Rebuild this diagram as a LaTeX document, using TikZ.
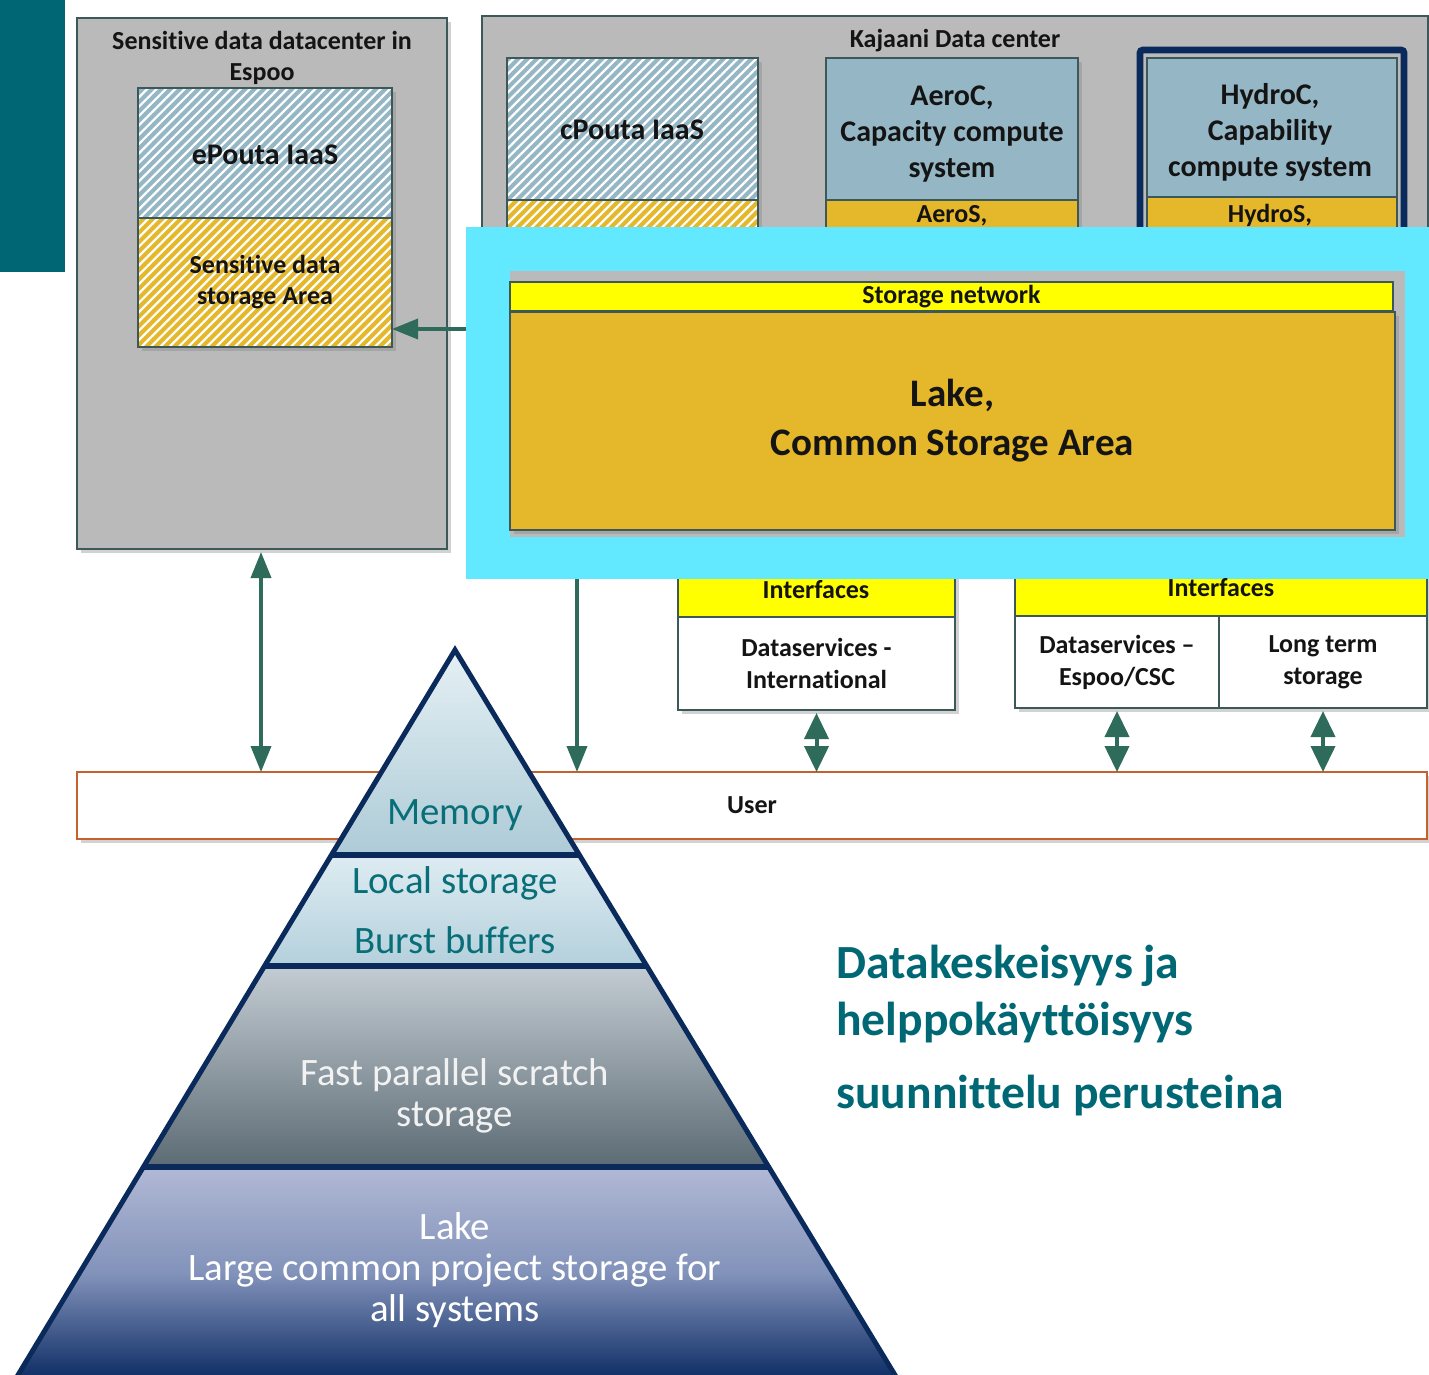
\documentclass[tikz,border=0pt]{standalone}
\usepackage{fontspec}
\setmainfont{Carlito}[Ligatures={NoCommon,NoContextual}]
\usetikzlibrary{shadows,patterns.meta,arrows.meta,calc}
\definecolor{tealbar}{RGB}{0,102,115}
\definecolor{boxgray}{RGB}{186,186,186}
\definecolor{boxedge}{RGB}{60,88,88}
\definecolor{hblue}{RGB}{149,182,197}
\definecolor{hgold}{RGB}{229,183,42}
\definecolor{byellow}{RGB}{255,255,0}
\definecolor{hcyan}{RGB}{99,233,255}
\definecolor{arrgreen}{RGB}{46,107,90}
\definecolor{userorange}{RGB}{196,98,45}
\definecolor{navy}{RGB}{10,42,92}
\definecolor{pyrtext}{RGB}{8,110,120}
\definecolor{righttext}{RGB}{0,104,116}
\definecolor{txtdark}{RGB}{20,20,20}
\newcommand\myfsA{\fontsize{13}{15.5}\selectfont\bfseries}
\newcommand\myfsB{\fontsize{15}{18}\selectfont\bfseries}
\newcommand\myfsD{\fontsize{19.5}{23.5}\selectfont\bfseries}
\newcommand\myfsE{\fontsize{13}{16}\selectfont\bfseries}
\newcommand\myfsP{\fontsize{19.4}{20.5}\selectfont}
\newcommand\myfsR{\fontsize{23.8}{28}\selectfont\bfseries}
\begin{document}
\begin{tikzpicture}[x=0.5pt,y=-0.5pt,
  box/.style={draw=boxedge, line width=0.6pt, inner sep=0pt, outer sep=0pt, anchor=north west, align=center, text=txtdark},
  shad/.style={drop shadow={shadow xshift=2pt, shadow yshift=-2pt, opacity=0.35}},
  hatch/.style={pattern={Lines[angle=45,distance=3.3pt,line width=1.1pt]}, pattern color=white},
  bluehatch/.style={box, shad, preaction={fill=hblue}, hatch},
  goldhatch/.style={box, shad, preaction={fill=hgold}, hatch},
  lbl/.style={font=\myfsA, align=center, inner sep=0pt, text=txtdark},
  midlbl/.style={font=\myfsB, align=center, inner sep=0pt, text=txtdark},
  thinarr/.style={draw=arrgreen, fill=arrgreen, line width=1.8pt},
  tipone/.style={-{Triangle[length=13pt,width=10pt]}},
  tipboth/.style={{Triangle[length=13pt,width=10pt]}-{Triangle[length=13pt,width=10pt]}},
  fatarr/.style={draw=arrgreen, fill=arrgreen, line width=2pt, {Triangle[length=13pt,width=12pt]}-{Triangle[length=13pt,width=12pt]}},
  pyr/.style={font=\myfsP, align=center, inner sep=0pt},
  righttxt/.style={font=\myfsR, text=righttext, anchor=west, inner sep=0pt}
]
\useasboundingbox (0,0) rectangle (1429,1375);
\fill[white] (0,0) rectangle (1429,1375);
\fill[tealbar] (0,0) rectangle (65,272);

% Espoo data center
\node[box, shad, fill=boxgray, minimum width=185pt, minimum height=265.5pt] (espoo) at (77,18) {};
\node[lbl] (espootitle) at (262,57.5) {Sensitive data datacenter in\\Espoo};
\node[bluehatch, minimum width=127pt, minimum height=65pt] (epouta) at (138,88) {};
\node[midlbl] (epoutatxt) at (265,155) {ePouta IaaS};
\node[goldhatch, minimum width=127pt, minimum height=64.5pt, font=\myfsA] (sens) at (138,218) {Sensitive data\\storage Area};

% Kajaani data center
\node[box, shad, fill=boxgray, minimum width=473pt, minimum height=140pt] (kaj) at (482,16) {};
\node[lbl] (kajtitle) at (955,41) {Kajaani Data center};
\node[bluehatch, minimum width=125.5pt, minimum height=71pt] (cpouta) at (507,58) {};
\node[midlbl] (cpoutatxt) at (632,130) {cPouta IaaS};
\node[goldhatch, minimum width=125.5pt, minimum height=40pt] (workdisk) at (507,200) {};
\node[box, shad, fill=hblue, minimum width=126pt, minimum height=71pt] (aeroc) at (826,58) {};
\node[midlbl] (aerotxt) at (952,134) {AeroC,\\Capacity compute\\system};
\node[box, shad, fill=hgold, minimum width=126pt, minimum height=40pt] (aeros) at (826,200) {};
\node[lbl] (aerostxt) at (952,216) {AeroS,};
\node[box, draw=navy, line width=3.4pt, rounded corners=1.5pt, minimum width=132pt, minimum height=100pt] (hydroframe) at (1140,50) {};
\node[box, fill=hblue, minimum width=125pt, minimum height=69.5pt] (hydroc) at (1147,58) {};
\node[midlbl] (hydrotxt) at (1270,132) {HydroC,\\Capability\\compute system};
\node[box, fill=hgold, minimum width=125pt, minimum height=40pt] (hydros) at (1147,197) {};
\node[lbl] (hydrostxt) at (1270,215) {HydroS,};

% Interfaces (tops hidden under highlight)
\node[box, shad, fill=byellow, minimum width=138.5pt, minimum height=28.5pt] (if1) at (678,560) {};
\node[box, shad, fill=byellow, minimum width=206pt, minimum height=28pt] (if2) at (1015,560) {};

% Highlight frame
\node[box, draw=none, fill=hcyan, minimum width=481.5pt, minimum height=176pt] (cyan) at (466,227) {};
\fill[boxgray] (510,271) rectangle (1405,537);
\node[box, fill=byellow, minimum width=441.5pt, minimum height=14.5pt, font=\myfsA] (snet) at (510,282) {Storage network};
\node[box, shad, fill=hgold, minimum width=442.5pt, minimum height=109pt, font=\myfsD] (lake) at (510,312) {Lake,\\[1pt]Common Storage Area};

\node[lbl] (if1txt) at (816,590) {Interfaces};
\node[lbl] (if2txt) at (1221,588) {Interfaces};
\node[box, shad, fill=white, minimum width=138.5pt, minimum height=46.5pt, font=\myfsE] (dsint) at (678,617) {Dataservices -\\International};
\node[box, shad, fill=white, minimum width=102pt, minimum height=46pt, font=\myfsE] (dsesp) at (1015,616) {Dataservices –\\Espoo/CSC};
\node[box, shad, fill=white, minimum width=104pt, minimum height=46pt, font=\myfsE] (lts) at (1219,616) {Long term\\storage};

% User
\node[box, shad, draw=userorange, line width=1.2pt, fill=white, minimum width=675pt, minimum height=33.5pt, font=\myfsA] (user) at (77,772) {User};

% Connectors
\coordinate (xl) at (261,0);
\coordinate (xv) at (577,0);
\coordinate (ya) at (0,329);
\draw[thinarr, tipboth, shorten <=1.5pt] (espoo.south -| xl) -- (user.north -| xl);
\draw[thinarr, tipone] (cyan.west |- ya) -- (sens.east |- ya);
\draw[thinarr, tipone] (cyan.south -| xv) -- (user.north -| xv);
\draw[fatarr, shorten <=1.5pt] (dsint.south) -- (user.north -| dsint.south);
\draw[fatarr, shorten <=1.5pt] (dsesp.south) -- (user.north -| dsesp.south);
\draw[fatarr, shorten <=1.5pt] (lts.south) -- (user.north -| lts.south);

% Pyramid
\shade[top color={rgb,255:red,229;green,240;blue,244}, bottom color={rgb,255:red,173;green,203;blue,215}] (455,650) -- (579.4,855) -- (331.4,855) -- cycle;
\shade[top color={rgb,255:red,222;green,236;blue,242}, bottom color={rgb,255:red,180;green,208;blue,220}] (331.4,855) -- (579.4,855) -- (646.8,966) -- (264.5,966) -- cycle;
\shade[top color={rgb,255:red,196;green,204;blue,211}, bottom color={rgb,255:red,92;green,107;blue,116}] (264.5,966) -- (646.8,966) -- (768.8,1167) -- (143.4,1167) -- cycle;
\shade[top color={rgb,255:red,177;green,185;blue,213}, bottom color={rgb,255:red,12;green,44;blue,100}, middle color={rgb,255:red,130;green,146;blue,186}] (143.4,1167) -- (768.8,1167) -- (898,1380) -- (15,1380) -- cycle;
\draw[navy, line width=2.5pt, line join=miter] (15,1380) -- (455,650) -- (898,1380);
\draw[navy, line width=3pt] (331.4,855) -- (579.4,855);
\draw[navy, line width=3pt] (264.5,966) -- (646.8,966);
\draw[navy, line width=3pt] (143.4,1167) -- (768.8,1167);

\node[pyr, text=pyrtext] (mem) at (455,815) {Memory};
\node[pyr, text=pyrtext] (loc) at (455,883) {Local storage};
\node[pyr, text=pyrtext] (burst) at (455,940) {Burst buffers};
\node[pyr, text={rgb,255:red,242;green,242;blue,242}] (fast) at (455,1096) {Fast parallel scratch\\storage};
\node[pyr, text=white] (lakep) at (455,1270) {Lake\\Large common project storage for\\all systems};

% Right text
\node[righttxt] (rt1) at (836,966) {Datakeskeisyys ja};
\node[righttxt] (rt2) at (836,1023) {helppokäyttöisyys};
\node[righttxt] (rt3) at (836,1096) {suunnittelu perusteina};
\end{tikzpicture}
\end{document}
